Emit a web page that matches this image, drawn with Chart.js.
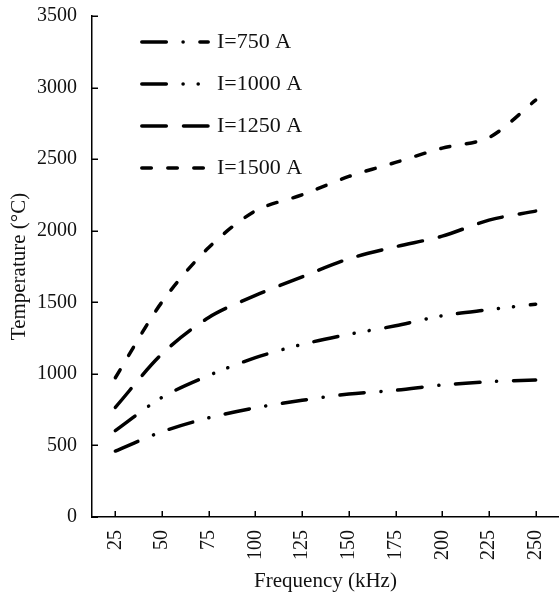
<!DOCTYPE html>
<html>
<head>
<meta charset="utf-8">
<script src="https://cdn.jsdelivr.net/npm/chart.js@4/dist/chart.umd.min.js"></script>
<style>
  html, body { margin: 0; padding: 0; background: #fff; }
  #wrap { width: 559px; height: 599px; }
</style>
</head>
<body>
<div id="wrap"><canvas id="c" width="559" height="599"></canvas></div>
<script>
const frequencies = ['25', '50', '75', '100', '125', '150', '175', '200', '225', '250'];
const seriesNames = ['I=750 A', 'I=1000 A', 'I=1250 A', 'I=1500 A'];
const temp750  = [461, 596, 693, 763, 815, 859, 885, 922, 945, 957];
const temp1000 = [603, 836, 989, 1113, 1206, 1276, 1336, 1406, 1448, 1487];
const temp1250 = [766, 1140, 1394, 1548, 1678, 1804, 1888, 1962, 2074, 2137];
const temp1500 = [973, 1503, 1883, 2139, 2251, 2379, 2477, 2577, 2651, 2912];
const yMin = 0, yMax = 3500, yStep = 500;

const FONT = 'Liberation Serif';
const LINE_W = 3.5;
const dashes = [
  [24.5, 16.75, 0.1, 16.75],
  [24.5, 16.75, 0.1, 15, 0.1, 16.75],
  [24.5, 17.2],
  [9.5, 16.5]
];
const values = [temp750, temp1000, temp1250, temp1500];

// legend sample images: a short dashed stroke in each series' style
function legendSample(dash) {
  const cv = document.createElement('canvas');
  cv.width = 70; cv.height = 8;
  const c = cv.getContext('2d');
  c.strokeStyle = '#000';
  c.lineWidth = LINE_W;
  c.lineCap = 'round';
  c.setLineDash(dash);
  c.beginPath(); c.moveTo(1.8, 4); c.lineTo(68.2, 4); c.stroke();
  return cv;
}

const innerTicks = {
  id: 'innerTicks',
  beforeDraw(chart) {
    const lg = chart.legend;
    if (lg) {
      lg.left = 124; lg.top = 11;
      lg.right = chart.chartArea.right; lg.bottom = chart.chartArea.bottom;
    }
  },
  afterDraw(chart) {
    const { ctx, scales: { x, y }, chartArea } = chart;
    ctx.save();
    ctx.strokeStyle = '#000';
    ctx.lineWidth = 1.5;
    y.ticks.forEach((t, i) => {
      const py = Math.round(y.getPixelForTick(i)) + 0.25;
      ctx.beginPath(); ctx.moveTo(chartArea.left, py); ctx.lineTo(chartArea.left + 6, py); ctx.stroke();
    });
    x.ticks.forEach((t, i) => {
      const px = Math.round(x.getPixelForTick(i)) + 0.25;
      ctx.beginPath(); ctx.moveTo(px, chartArea.bottom); ctx.lineTo(px, chartArea.bottom - 6); ctx.stroke();
    });
    ctx.restore();
  }
};

new Chart(document.getElementById('c'), {
  type: 'line',
  data: {
    labels: frequencies,
    datasets: seriesNames.map((name, i) => ({
      label: name,
      data: values[i],
      borderColor: '#000',
      backgroundColor: '#000',
      borderWidth: LINE_W,
      borderDash: dashes[i],
      borderCapStyle: 'round',
      pointRadius: 0,
      pointStyle: legendSample(dashes[i]),
      tension: 0.3,
      fill: false
    }))
  },
  options: {
    responsive: false,
    animation: false,
    layout: { padding: { top: 16, right: 0, left: 0, bottom: 0 } },
    plugins: {
      legend: {
        position: 'chartArea',
        align: 'start',
        labels: {
          usePointStyle: true,
          pointStyleWidth: 62,
          padding: 20,
          color: '#111',
          font: { family: FONT, size: 22 }
        }
      },
      tooltip: { enabled: false }
    },
    scales: {
      x: {
        type: 'category',
        offset: true,
        grid: { display: false, drawTicks: false },
        border: { display: true, color: '#000', width: 1.5 },
        ticks: {
          minRotation: 90, maxRotation: 90,
          autoSkip: false,
          padding: 13,
          color: '#111',
          font: { family: FONT, size: 20 }
        },
        title: {
          display: true,
          text: 'Frequency (kHz)',
          color: '#111',
          font: { family: FONT, size: 21 },
          padding: { top: 0, bottom: 5 }
        },
        afterFit(s) { s.height = 82; s.paddingLeft = 0; s.paddingRight = 0; }
      },
      y: {
        min: yMin, max: yMax,
        grid: { display: false, drawTicks: false },
        border: { display: true, color: '#000', width: 1.5 },
        ticks: {
          stepSize: yStep,
          padding: 15,
          color: '#111',
          font: { family: FONT, size: 20 },
          callback: (v) => String(v)
        },
        title: {
          display: true,
          text: 'Temperature (°C)',
          color: '#111',
          font: { family: FONT, size: 21 },
          padding: { top: 7, bottom: 0 }
        },
        afterFit(s) { s.width = 92; s.paddingTop = 0; s.paddingBottom = 0; }
      }
    }
  },
  plugins: [innerTicks]
});
</script>
</body>
</html>
